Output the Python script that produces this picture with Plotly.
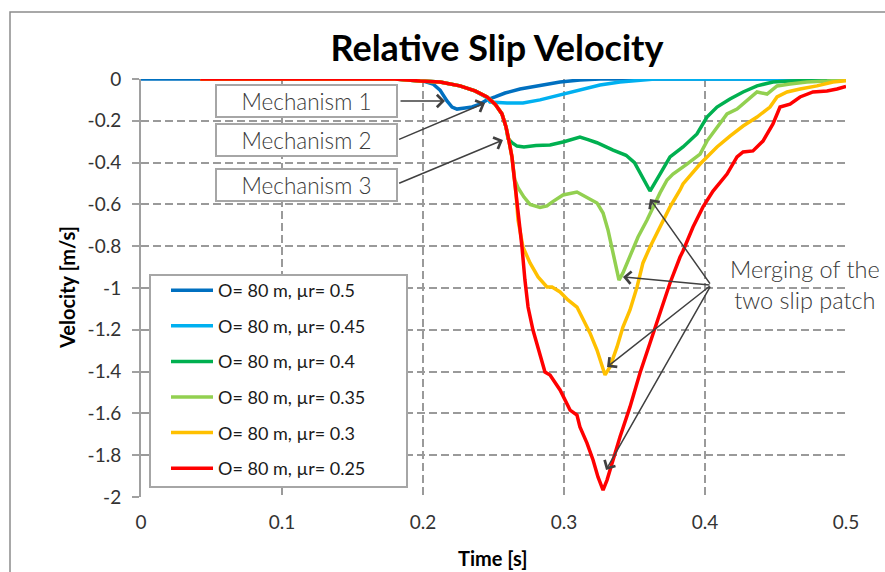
import plotly.graph_objects as go

# ---- data: relative slip velocity [m/s] vs time [s] ----
t_mu050 = [0.0, 0.184, 0.198, 0.2071, 0.2121, 0.2170, 0.2206, 0.2241, 0.2298, 0.2348,
           0.2404, 0.2454, 0.2511, 0.2582, 0.2688, 0.2830, 0.2972, 0.3113, 0.3255, 0.5]
v_mu050 = [0.0, 0.0, -0.005, -0.024, -0.053, -0.105, -0.134, -0.144, -0.139, -0.134,
           -0.120, -0.100, -0.086, -0.067, -0.048, -0.033, -0.014, -0.005, 0.0, 0.0]

t_mu045 = [0.042, 0.18, 0.198, 0.2121, 0.2262, 0.2369, 0.2454, 0.2475, 0.2596, 0.2709,
           0.2830, 0.2972, 0.3113, 0.3255, 0.3397, 0.3539, 0.3645, 0.5]
v_mu045 = [0.0, 0.0, -0.010, -0.014, -0.033, -0.057, -0.090, -0.110, -0.115, -0.115,
           -0.100, -0.077, -0.053, -0.029, -0.014, -0.005, 0.0, 0.0]

t_mu040 = [0.042, 0.18, 0.198, 0.2121, 0.2262, 0.2369, 0.2454, 0.2511, 0.2560, 0.2589,
           0.2603, 0.2631, 0.2667, 0.2716, 0.2801, 0.2901, 0.3000, 0.3050, 0.3113, 0.3170,
           0.3234, 0.3348, 0.3440, 0.3500, 0.3560, 0.3610, 0.3681, 0.3752, 0.3844, 0.3943,
           0.4014, 0.4085, 0.4177, 0.4270, 0.4369, 0.4482, 0.4603, 0.4766, 0.5]
v_mu040 = [0.0, 0.0, -0.010, -0.014, -0.033, -0.057, -0.086, -0.120, -0.167, -0.230,
           -0.285, -0.305, -0.321, -0.325, -0.318, -0.316, -0.300, -0.290, -0.278, -0.290,
           -0.305, -0.340, -0.365, -0.400, -0.470, -0.536, -0.455, -0.373, -0.325, -0.263,
           -0.182, -0.134, -0.096, -0.062, -0.033, -0.014, -0.010, -0.005, 0.0]

t_mu035 = [0.042, 0.18, 0.198, 0.2121, 0.2262, 0.2369, 0.2454, 0.2511, 0.2560, 0.2589,
           0.2610, 0.2631, 0.2650, 0.2674, 0.2716, 0.2759, 0.2830, 0.2879, 0.2915, 0.2993,
           0.3092, 0.3163, 0.3234, 0.3277, 0.3312, 0.3348, 0.3376, 0.3390, 0.3418, 0.3468,
           0.3525, 0.3589, 0.3631, 0.3681, 0.3731, 0.3773, 0.3872, 0.3965, 0.4014, 0.4085,
           0.4156, 0.4227, 0.4298, 0.4369, 0.4440, 0.4511, 0.4603, 0.4723, 0.4865, 0.4979, 0.5]
v_mu035 = [0.0, 0.0, -0.010, -0.014, -0.033, -0.057, -0.086, -0.120, -0.167, -0.230,
           -0.297, -0.373, -0.480, -0.520, -0.565, -0.600, -0.615, -0.607, -0.589, -0.555,
           -0.541, -0.565, -0.593, -0.641, -0.722, -0.833, -0.928, -0.962, -0.928, -0.852,
           -0.756, -0.675, -0.612, -0.545, -0.483, -0.455, -0.407, -0.359, -0.297, -0.230,
           -0.167, -0.144, -0.105, -0.062, -0.072, -0.033, -0.024, -0.014, -0.010, -0.005, -0.003]

t_mu030 = [0.042, 0.18, 0.198, 0.2121, 0.2262, 0.2369, 0.2454, 0.2511, 0.2560, 0.2589,
           0.2610, 0.2631, 0.2645, 0.2660, 0.2674, 0.2709, 0.2759, 0.2816, 0.2879, 0.2915,
           0.2972, 0.3028, 0.3092, 0.3135, 0.3184, 0.3234, 0.3270, 0.3291, 0.3326, 0.3376,
           0.3418, 0.3468, 0.3518, 0.3560, 0.3610, 0.3681, 0.3752, 0.3823, 0.3844, 0.3965,
           0.4085, 0.4177, 0.4270, 0.4369, 0.4461, 0.4511, 0.4582, 0.4674, 0.4794, 0.4908,
           0.4979, 0.5]
v_mu030 = [0.0, 0.0, -0.010, -0.014, -0.033, -0.057, -0.086, -0.120, -0.167, -0.230,
           -0.297, -0.373, -0.460, -0.550, -0.675, -0.804, -0.880, -0.947, -0.995, -0.995,
           -1.019, -1.057, -1.091, -1.153, -1.215, -1.297, -1.378, -1.416, -1.378, -1.282,
           -1.187, -1.105, -0.995, -0.880, -0.804, -0.708, -0.612, -0.531, -0.502, -0.407,
           -0.325, -0.273, -0.225, -0.182, -0.134, -0.086, -0.062, -0.048, -0.033, -0.014,
           -0.010, -0.008]

t_mu025 = [0.042, 0.18, 0.198, 0.2121, 0.2262, 0.2369, 0.2454, 0.2511, 0.2560, 0.2589,
           0.2610, 0.2631, 0.2645, 0.2660, 0.2681, 0.2702, 0.2723, 0.2745, 0.2780, 0.2830,
           0.2865, 0.2901, 0.2972, 0.3043, 0.3092, 0.3113, 0.3163, 0.3206, 0.3241, 0.3277,
           0.3305, 0.3348, 0.3397, 0.3468, 0.3539, 0.3610, 0.3681, 0.3752, 0.3823, 0.3844,
           0.3915, 0.3986, 0.4057, 0.4156, 0.4227, 0.4270, 0.4340, 0.4411, 0.4482, 0.4532,
           0.4603, 0.4674, 0.4766, 0.4865, 0.4936, 0.5]
v_mu025 = [0.0, 0.0, -0.010, -0.014, -0.033, -0.057, -0.086, -0.120, -0.167, -0.230,
           -0.297, -0.373, -0.460, -0.550, -0.660, -0.804, -0.962, -1.091, -1.201, -1.311,
           -1.402, -1.416, -1.488, -1.584, -1.608, -1.665, -1.742, -1.823, -1.904, -1.967,
           -1.919, -1.823, -1.713, -1.569, -1.407, -1.263, -1.120, -0.976, -0.852, -0.823,
           -0.708, -0.612, -0.536, -0.455, -0.373, -0.349, -0.344, -0.297, -0.215, -0.134,
           -0.120, -0.086, -0.062, -0.057, -0.048, -0.035]

series_names = ["O= 80 m, µr= 0.5", "O= 80 m, µr= 0.45", "O= 80 m, µr= 0.4",
                "O= 80 m, µr= 0.35", "O= 80 m, µr= 0.3", "O= 80 m, µr= 0.25"]
series_t = [t_mu050, t_mu045, t_mu040, t_mu035, t_mu030, t_mu025]
series_v = [v_mu050, v_mu045, v_mu040, v_mu035, v_mu030, v_mu025]
series_colors = ["#0070C0", "#00B0F0", "#00B050", "#92D050", "#FFC000", "#FF0000"]

x_tick_vals = [0, 0.1, 0.2, 0.3, 0.4, 0.5]
x_tick_text = ["0", "0.1", "0.2", "0.3", "0.4", "0.5"]
y_tick_vals = [0, -0.2, -0.4, -0.6, -0.8, -1.0, -1.2, -1.4, -1.6, -1.8, -2.0]
y_tick_text = ["0", "-0.2", "-0.4", "-0.6", "-0.8", "-1", "-1.2", "-1.4", "-1.6", "-1.8", "-2"]

mechanism_labels = ["Mechanism 1", "Mechanism 2", "Mechanism 3"]
mechanism_box_pos = [(0.1174, -0.103), (0.1174, -0.294), (0.1174, -0.505)]
mechanism_arrows = [((0.183, -0.105), (0.2156, -0.105)),
                    ((0.182, -0.292), (0.244, -0.115)),
                    ((0.182, -0.502), (0.2567, -0.292))]
merge_label = "Merging of the<br>two slip patch"
merge_tail = (0.4043, -0.986)
merge_tips = [(0.361, -0.574), (0.3418, -0.947), (0.3305, -1.378), (0.3298, -1.871)]

FONT = "Lato"
TEXT_GREY = "#3a3a3a"
GRID_GREY = "#9a9a9a"

# plot area in pixels: left 141, right 846, top 79, bottom 497
PL, PR, PT, PB = 141, 846, 79, 497


def px_x(px):
    return (px - PL) / (PR - PL)


def px_y(py):
    return (PB - py) / (PB - PT)


fig = go.Figure()
for name, tt, vv, col in zip(series_names, series_t, series_v, series_colors):
    fig.add_trace(go.Scatter(x=tt, y=vv, mode="lines", name=name, legendgroup=name,
                             line=dict(color=col, width=3.5)))

annotations = []
for label, (bx, by) in zip(mechanism_labels, mechanism_box_pos):
    annotations.append(dict(x=bx, y=by, xref="x", yref="y", text=label, showarrow=False,
                            xanchor="center", yanchor="middle",
                            width=179, height=30, borderpad=0, borderwidth=2,
                            bordercolor="#a6a6a6", bgcolor="white",
                            font=dict(family=FONT, size=22.5, color=TEXT_GREY, weight=300)))
for (tail, tip) in mechanism_arrows:
    annotations.append(dict(x=tip[0], y=tip[1], ax=tail[0], ay=tail[1], xref="x", yref="y",
                            axref="x", ayref="y", text="", showarrow=True, arrowhead=4,
                            arrowsize=1.6, arrowwidth=1.5, arrowcolor="#404040", standoff=0))
for tip in merge_tips:
    annotations.append(dict(x=tip[0], y=tip[1], ax=merge_tail[0], ay=merge_tail[1],
                            xref="x", yref="y", axref="x", ayref="y", text="",
                            showarrow=True, arrowhead=4, arrowsize=1.6, arrowwidth=1.5,
                            arrowcolor="#404040", standoff=0))
annotations.append(dict(x=px_x(805), y=px_y(284), xref="paper", yref="paper",
                        xanchor="center", yanchor="middle", text=merge_label,
                        showarrow=False, align="center",
                        font=dict(family=FONT, size=23.5, color=TEXT_GREY, weight=300)))
# axis titles
annotations.append(dict(x=px_x(67), y=0.5, xref="paper", yref="paper",
                        xanchor="center", yanchor="middle",
                        text="<b>Velocity [m/s]</b>", textangle=-90, showarrow=False,
                        font=dict(family=FONT, size=20, color="#000000")))
annotations.append(dict(x=px_x(492), y=px_y(558), xref="paper", yref="paper",
                        xanchor="center", yanchor="middle",
                        text="<b>Time [s]</b>", showarrow=False,
                        font=dict(family=FONT, size=20, color="#000000")))

fig.update_layout(
    width=885, height=572,
    margin=dict(l=PL, r=885 - PR, t=PT, b=572 - PB),
    paper_bgcolor="white", plot_bgcolor="white",
    title=dict(text="<b>Relative Slip Velocity</b>", x=497 / 885, xanchor="center",
               y=1 - 48 / 572, yanchor="middle", yref="container",
               font=dict(family=FONT, size=36, color="#000000")),
    xaxis=dict(range=[0, 0.5], tickvals=x_tick_vals, ticktext=x_tick_text,
               showgrid=True, gridcolor=GRID_GREY, gridwidth=1.5, griddash="8px,4px",
               zeroline=False, showline=False, ticks="", ticklabelstandoff=12,
               tickfont=dict(family=FONT, size=19, color="#333333"), fixedrange=True),
    yaxis=dict(range=[-2, 0], tickvals=y_tick_vals, ticktext=y_tick_text,
               showgrid=True, gridcolor=GRID_GREY, gridwidth=1.5, griddash="8px,4px",
               zeroline=False, showline=True, linecolor="#a0a0a0", linewidth=2,
               ticks="outside", ticklen=7, tickwidth=2, tickcolor="#a0a0a0",
               ticklabelstandoff=7,
               tickfont=dict(family=FONT, size=19, color="#333333"), fixedrange=True),
    legend=dict(x=px_x(166), y=px_y(272), xanchor="left", yanchor="top",
                bgcolor="rgba(0,0,0,0)", borderwidth=0, itemwidth=42,
                traceorder="grouped", tracegroupgap=9.2,
                font=dict(family=FONT, size=18, color="#1a1a1a")),
    annotations=annotations,
    shapes=[
        # outer chart frame
        dict(type="rect", xref="paper", yref="paper",
             x0=px_x(10), x1=1.2, y0=-0.3, y1=px_y(12),
             line=dict(color="#8c8c8c", width=1.5), fillcolor="rgba(0,0,0,0)",
             layer="below"),
        # legend frame
        dict(type="rect", xref="paper", yref="paper",
             x0=px_x(150), x1=px_x(407), y0=px_y(487), y1=px_y(275),
             line=dict(color="#a6a6a6", width=2), fillcolor="white", layer="above"),
    ],
)

fig.write_html("out.html")
